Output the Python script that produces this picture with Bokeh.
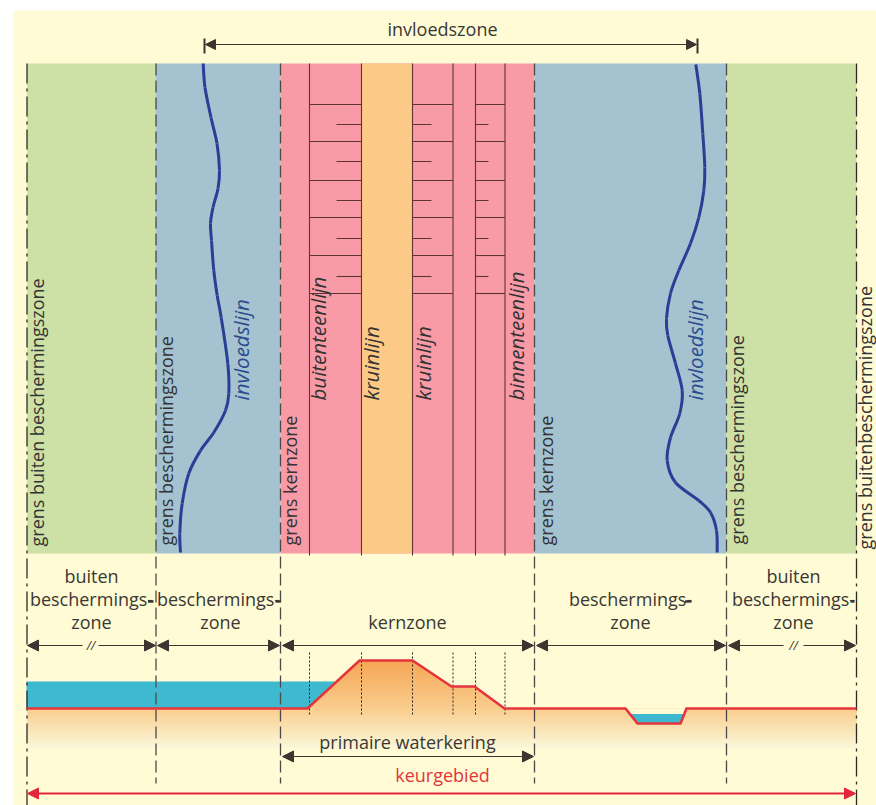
from bokeh.plotting import figure
from bokeh.embed import file_html
from bokeh.resources import INLINE
from bokeh.models import Range1d, Arrow, NormalHead
from bokeh.core.properties import value
import numpy as np

# ---- zone boundaries (image pixel coordinates as the diagram's own scale)
ZONE_X = [26.5, 155.5, 280, 534, 726, 856]
ZONE_COLORS = ["#CDE0A6", "#A4C2D0", "#F99AA7", "#A4C2D0", "#CDE0A6"]
PANEL_TOP, PANEL_BOTTOM = 63, 553
CROWN_X = [361, 412]
KERN_LINES = [309, 361, 412, 452.5, 475, 504.5]
LONG_TICKS_Y = [104, 141, 180, 217, 255, 293]
SHORT_TICKS_Y = [124, 161, 200, 238, 276]
LONG_SPANS = [(309, 361), (412, 452.5), (475, 504.5)]
SHORT_SPANS = [(336, 361), (412, 431), (475, 488)]

LEFT_CURVE_X = [202.7, 204.5, 210.5, 216.5, 219, 217.5, 212.5, 210, 211, 213.3, 216.7, 220.7, 227.3, 228.3, 225, 213.3, 200, 188.3, 181.7, 179.3, 180]
LEFT_CURVE_Y = [63, 87, 117, 143, 170, 188, 207, 223, 240, 270, 295, 317, 363, 393, 410, 432, 450, 473, 503, 533, 552]
RIGHT_CURVE_X = [695.3, 699.3, 702.3, 704.3, 703.3, 698.3, 690, 678.3, 670, 666, 667.3, 675, 681.7, 679.3, 670, 666.7, 675, 698.3, 710, 716, 716.7]
RIGHT_CURVE_Y = [64, 93, 133, 167, 190, 217, 243, 270, 293, 318, 335, 363, 390, 413, 437, 460, 482, 500, 512, 530, 552]

# ---- dike profile
PROFILE_X = [26, 307, 359, 412, 451, 474, 504, 625, 637, 680, 686, 856]
PROFILE_Y = [708, 708, 660, 660, 686, 686, 708, 708, 723, 723, 708, 708]
GROUND_Y = 708
WATER_LEFT_X = [26, 335, 307, 26]
WATER_LEFT_Y = [681, 681, 708, 708]
DITCH_X = [630, 683.5, 680, 637]
DITCH_Y = [713.5, 713.5, 723, 723]
DITCH_AIR_X = [625, 686, 683.5, 630]
DITCH_AIR_Y = [708, 708, 713.5, 713.5]
GRAD_STOPS_Y = [660, 708, 748]
GRAD_STOPS_R = [246, 250, 250]
GRAD_STOPS_G = [166, 205, 249]
GRAD_STOPS_B = [85, 142, 218]

# ---- texts
H_LABELS = ["invloedszone", "buiten", "beschermings-", "zone", "beschermings-", "zone", "kernzone",
            "beschermings-", "zone", "buiten", "beschermings-", "zone", "primaire waterkering"]
H_LABEL_X = [442, 91, 91, 91, 218, 220, 407, 630, 630, 793, 793, 793, 407]
H_LABEL_Y = [37, 583.5, 607, 630, 607, 630, 630, 607, 630, 583.5, 607, 630, 750]
V_LABELS = ["grens buiten beschermingszone", "grens beschermingszone", "grens kernzone",
            "grens kernzone", "grens beschermingszone", "grens buitenbeschermingszone"]
V_LABEL_X = [42, 171, 295, 551, 742, 870]
V_LABEL_Y = [546, 545, 545, 545, 544, 549]
I_LABELS = ["invloedslijn", "buitenteenlijn", "kruinlijn", "kruinlijn", "binnenteenlijn", "invloedslijn"]
I_LABEL_X = [246, 323, 376, 428, 521, 700]
I_LABEL_Y = [400, 400, 400, 400, 400, 400]
I_LABEL_COLORS = ["#2B4A8C", "#333333", "#333333", "#333333", "#333333", "#2B4A8C"]

BG = "#FFFBD4"
DARK = "#3C3530"
FONT = value("Open Sans")
BASE_SHIFT = -6
H_SHIFT = -8.5

p = figure(width=876, height=805, x_range=Range1d(0, 876), y_range=Range1d(805, 0),
           x_axis_type=None, y_axis_type=None, output_backend="svg", toolbar_location=None,
           min_border=0, outline_line_color=None, background_fill_color="white")
p.grid.visible = False

p.quad(left=13, right=876, top=10, bottom=805, fill_color=BG, line_color=None)

# panels
p.quad(left=ZONE_X[:-1], right=ZONE_X[1:], top=PANEL_TOP, bottom=PANEL_BOTTOM,
       fill_color=ZONE_COLORS, line_color=None)
p.quad(left=CROWN_X[0], right=CROWN_X[1], top=PANEL_TOP, bottom=PANEL_BOTTOM,
       fill_color="#FCCA86", line_color=None)

# ground gradient
ys = np.arange(660, 748, 2.0)
for y0 in ys:
    ym = y0 + 1
    c = (int(np.interp(ym, GRAD_STOPS_Y, GRAD_STOPS_R)),
         int(np.interp(ym, GRAD_STOPS_Y, GRAD_STOPS_G)),
         int(np.interp(ym, GRAD_STOPS_Y, GRAD_STOPS_B)))
    if y0 < GROUND_Y:
        l = np.interp(ym, [PROFILE_Y[2], PROFILE_Y[1]], [PROFILE_X[2], PROFILE_X[1]])
        r = np.interp(ym, [PROFILE_Y[3], PROFILE_Y[4]], [PROFILE_X[3], PROFILE_X[4]]) if ym < 686 else \
            np.interp(ym, [PROFILE_Y[5], PROFILE_Y[6]], [PROFILE_X[5], PROFILE_X[6]])
    else:
        l, r = ZONE_X[0], ZONE_X[-1]
    p.quad(left=l, right=r, top=y0, bottom=y0 + (3.5 if y0 + 3.5 <= 748 else 2), fill_color=c, line_color=None)

# water
p.patch(WATER_LEFT_X, WATER_LEFT_Y, fill_color="#3FB9CF", line_color=None)
p.patch(DITCH_AIR_X, DITCH_AIR_Y, fill_color=BG, line_color=None)
p.patch(DITCH_X, DITCH_Y, fill_color="#3FB9CF", line_color=None)

# kern lines and ticks
for x in KERN_LINES:
    p.line([x, x], [PANEL_TOP, PANEL_BOTTOM + 2], line_color="#5E3438", line_width=1.1)
for (a, b) in LONG_SPANS:
    p.segment(a, LONG_TICKS_Y, b, LONG_TICKS_Y, line_color="#5E3438", line_width=1.1)
for (a, b) in SHORT_SPANS:
    p.segment(a, SHORT_TICKS_Y, b, SHORT_TICKS_Y, line_color="#5E3438", line_width=1.1)

# influence lines: smooth Bezier pieces through the read points
def smooth(xs, ys):
    xs, ys = np.array(xs, float), np.array(ys, float)
    px = np.r_[xs[0], xs, xs[-1]]
    py = np.r_[ys[0], ys, ys[-1]]
    c1x = px[1:-2] + (px[2:-1] - px[:-3]) / 6
    c1y = py[1:-2] + (py[2:-1] - py[:-3]) / 6
    c2x = px[2:-1] - (px[3:] - px[1:-2]) / 6
    c2y = py[2:-1] - (py[3:] - py[1:-2]) / 6
    p.bezier(xs[:-1], ys[:-1], xs[1:], ys[1:], c1x, c1y, c2x, c2y,
             line_color="#2A3E96", line_width=3)

smooth(LEFT_CURVE_X, LEFT_CURVE_Y)
smooth(RIGHT_CURVE_X, RIGHT_CURVE_Y)

# boundaries
for x in ZONE_X[1:-1]:
    p.line([x, x], [PANEL_TOP, 783], line_color="#4A4A48", line_width=1.3, line_dash="12 5")
for x in (ZONE_X[0], ZONE_X[-1]):
    p.line([x, x], [PANEL_TOP, 805], line_color="#2E2A26", line_width=1.3, line_dash="20 5 3 5")

# dotted
for x in KERN_LINES:
    p.line([x, x], [652, 716], line_color="#222222", line_width=1, line_dash="2 2")

# profile
p.line(PROFILE_X, PROFILE_Y, line_color="#E5343C", line_width=2.6, line_join="miter")

def arrow(x0, x1, y, color=DARK, both=True, width=1.2, size=11):
    head = NormalHead(size=size, fill_color=color, line_color=color)
    a = Arrow(end=head, x_start=x0, x_end=x1, y_start=y, y_end=y, line_color=color, line_width=width)
    if both:
        a.start = NormalHead(size=size, fill_color=color, line_color=color)
    p.add_layout(a)

ROW_Y = 645
ARROW_SPANS = [(27, 155), (157, 279), (282, 533), (536, 725), (728, 855)]
for a, b in ARROW_SPANS:
    arrow(a, b, ROW_Y)
arrow(282, 533, 756)
arrow(205, 696, 44, size=10)
p.segment([204, 697], [38, 38], [204, 697], [53, 53], line_color=DARK, line_width=2)
arrow(27, 855, 793, color="#E5263A", width=1.8)

# // breaks
p.quad(left=[82, 783], right=[98, 803], top=640, bottom=650, fill_color=BG, line_color=None, level="overlay")
p.text([90.5, 793], [651, 651], text=["//", "//"], text_font=FONT, text_font_size="12px", text_font_style="italic",
       text_align="center", text_baseline="alphabetic", text_color=DARK, y_offset=BASE_SHIFT, level="overlay")

# bold hyphens
HY_X0 = [147.5, 275, 684.5, 850]
HY_X1 = [153, 280, 691, 854]
p.segment(HY_X0, [601] * 4, HY_X1, [601] * 4, line_color=DARK, line_width=2.4)

p.text(H_LABEL_X, H_LABEL_Y, text=H_LABELS, text_font=FONT, text_font_size="18px", text_align="center",
       text_baseline="alphabetic", text_color="#3A3835", y_offset=H_SHIFT)
p.text([442], [783], text=["keurgebied"], text_font=FONT, text_font_size="18px", text_align="center",
       text_baseline="alphabetic", text_color="#E5343C", y_offset=H_SHIFT)
p.text(V_LABEL_X, V_LABEL_Y, text=V_LABELS, angle=np.pi / 2, text_font=FONT, text_font_size="18px",
       text_align="left", text_baseline="alphabetic", text_color="#333333", x_offset=BASE_SHIFT)
p.text(I_LABEL_X, I_LABEL_Y, text=I_LABELS, angle=np.pi / 2, text_font=FONT, text_font_size="20.5px",
       text_font_style="italic", text_align="left", text_baseline="alphabetic", text_color=I_LABEL_COLORS,
       x_offset=BASE_SHIFT)

open("out.html", "w").write(file_html(p, INLINE))
